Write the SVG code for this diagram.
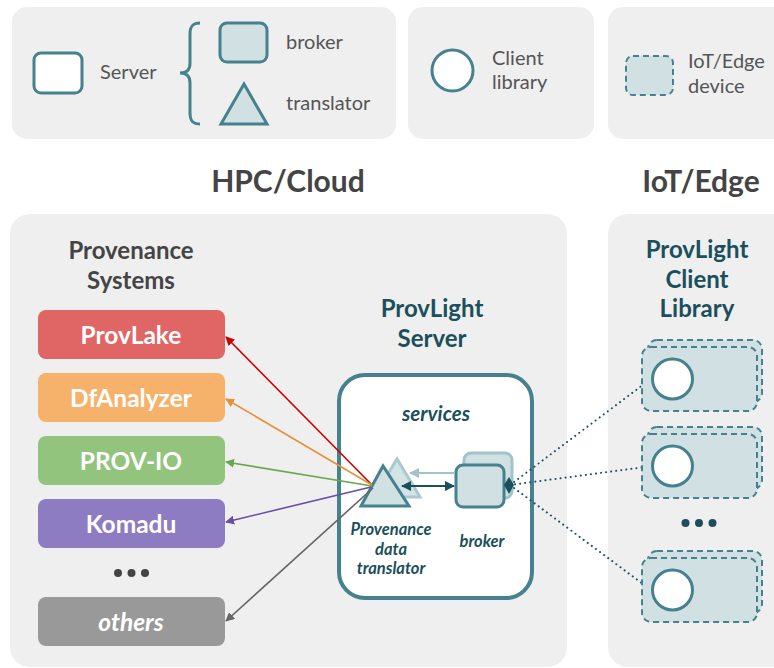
<svg xmlns="http://www.w3.org/2000/svg" width="774" height="668" viewBox="0 0 774 668">
<defs>
<style>
.panel{fill:#efefef}
.lg{font-family:Lato,"Liberation Sans",sans-serif;font-size:20px;fill:#555}
.ttl{font-family:Lato,"Liberation Sans",sans-serif;font-size:30px;font-weight:bold;fill:#444;text-anchor:middle}
.sub{font-family:Lato,"Liberation Sans",sans-serif;font-size:24px;font-weight:bold;text-anchor:middle}
.box{font-family:Lato,"Liberation Sans",sans-serif;font-size:24.5px;font-weight:bold;fill:#fff;text-anchor:middle}
.it{font-family:Lato,"Liberation Sans",sans-serif;font-weight:bold;font-style:italic;fill:#1b4f5c;text-anchor:middle}
.tealS{stroke:#45818e;stroke-width:3}
.lt{fill:#d0e0e3}
.dev{fill:#d0e0e3;stroke:#45818e;stroke-width:2;stroke-dasharray:6 4}
.dot{fill:none;stroke:#1b4f5c;stroke-width:2;stroke-dasharray:0.1 5;stroke-linecap:round}
</style>
<marker id="aR" viewBox="0 0 10 10" refX="9" refY="5" markerWidth="9" markerHeight="9" markerUnits="userSpaceOnUse" orient="auto"><path d="M0,0L10,5L0,10z" fill="#cc0000"/></marker>
<marker id="aO" viewBox="0 0 10 10" refX="9" refY="5" markerWidth="9" markerHeight="9" markerUnits="userSpaceOnUse" orient="auto"><path d="M0,0L10,5L0,10z" fill="#e69138"/></marker>
<marker id="aG" viewBox="0 0 10 10" refX="9" refY="5" markerWidth="9" markerHeight="9" markerUnits="userSpaceOnUse" orient="auto"><path d="M0,0L10,5L0,10z" fill="#6aa84f"/></marker>
<marker id="aP" viewBox="0 0 10 10" refX="9" refY="5" markerWidth="9" markerHeight="9" markerUnits="userSpaceOnUse" orient="auto"><path d="M0,0L10,5L0,10z" fill="#674ea7"/></marker>
<marker id="aK" viewBox="0 0 10 10" refX="9" refY="5" markerWidth="9" markerHeight="9" markerUnits="userSpaceOnUse" orient="auto"><path d="M0,0L10,5L0,10z" fill="#666"/></marker>
<marker id="aL" viewBox="0 0 10 10" refX="9" refY="5" markerWidth="10" markerHeight="10" markerUnits="userSpaceOnUse" orient="auto"><path d="M0,0L10,5L0,10z" fill="#a2c4c9"/></marker>
<marker id="aD" viewBox="0 0 10 10" refX="9" refY="5" markerWidth="10" markerHeight="10" markerUnits="userSpaceOnUse" orient="auto-start-reverse"><path d="M0,0L10,5L0,10z" fill="#1b4f5c"/></marker>
</defs>

<g id="legend">
<rect class="panel" x="12" y="7" width="384" height="132" rx="15"/>
<rect class="panel" x="408" y="7" width="186" height="132" rx="15"/>
<rect class="panel" x="608" y="7" width="190" height="132" rx="15"/>
<rect x="34" y="53" width="48" height="40" rx="7" fill="#fff" class="tealS"/>
<text class="lg" x="100" y="79">Server</text>
<path d="M200,23 C192,23 190,27 190,34 L190,63 C190,70 187,73 180,73 C187,73 190,76 190,83 L190,113 C190,120 192,124 200,124" fill="none" class="tealS"/>
<rect x="220" y="23" width="47" height="39" rx="7" class="lt tealS"/>
<text class="lg" x="286" y="49">broker</text>
<polygon points="221,124 244,84 267,124" class="lt tealS"/>
<text class="lg" x="286" y="110">translator</text>
<circle cx="452.5" cy="70.5" r="20.5" fill="#fff" class="tealS"/>
<text class="lg" x="492" y="65">Client</text>
<text class="lg" x="492" y="89">library</text>
<rect x="626" y="56" width="47" height="39" rx="7" class="dev" stroke-dasharray="5 3"/>
<text class="lg" x="688" y="68">IoT/Edge</text>
<text class="lg" x="688" y="93">device</text>
</g>

<g id="titles">
<text class="ttl" x="288" y="192">HPC/Cloud</text>
<text class="ttl" x="701" y="192">IoT/Edge</text>
</g>

<g id="panels">
<rect class="panel" x="10" y="214" width="557" height="453" rx="20"/>
<rect class="panel" x="608" y="214" width="190" height="453" rx="20"/>
</g>

<g id="provenance-systems">
<text class="sub" fill="#444" x="131" y="259">Provenance</text>
<text class="sub" fill="#444" x="131" y="289">Systems</text>
</g>
<g id="provlake"><rect x="38" y="310" width="187" height="49" rx="8" fill="#e06666"/><text class="box" x="131" y="344">ProvLake</text></g>
<g id="dfanalyzer"><rect x="38" y="373" width="187" height="49" rx="8" fill="#f6b26b"/><text class="box" x="131" y="407">DfAnalyzer</text></g>
<g id="prov-io"><rect x="38" y="436" width="187" height="49" rx="8" fill="#93c47d"/><text class="box" x="131" y="470">PROV-IO</text></g>
<g id="komadu"><rect x="38" y="499" width="187" height="49" rx="8" fill="#8e7cc3"/><text class="box" x="131" y="533">Komadu</text></g>
<g id="dots-left" fill="#444"><circle cx="118" cy="573" r="4"/><circle cx="131.5" cy="573" r="4"/><circle cx="145" cy="573" r="4"/></g>
<g id="others"><rect x="38" y="597" width="187" height="49" rx="8" fill="#999"/><text class="box" font-style="italic" x="131" y="631">others</text></g>

<g id="provlight-server">
<text class="sub" fill="#1b4f5c" x="432" y="317">ProvLight</text>
<text class="sub" fill="#1b4f5c" x="432" y="347">Server</text>
<rect x="339" y="375" width="193" height="223" rx="26" fill="#fff" stroke="#45818e" stroke-width="4"/>
<text class="it" font-size="20.5" x="436" y="421">services</text>
</g>

<g id="translator">
<polygon points="374,497 397,459 420,497" fill="#d0e0e3" stroke="#a2c4c9" stroke-width="3" opacity="0.9"/>
<polygon points="361,506 383,466 409,506" class="lt tealS" stroke-width="3.5"/>
<text class="it" font-size="16.5" x="391" y="535">Provenance</text>
<text class="it" font-size="16.5" x="391" y="555">data</text>
<text class="it" font-size="16.5" x="391" y="574">translator</text>
</g>

<g id="broker">
<rect x="464" y="453" width="48" height="45" rx="7" fill="#d0e0e3" stroke="#a2c4c9" stroke-width="3"/>
<rect x="456" y="465" width="48" height="42" rx="7" class="lt tealS" stroke-width="3.5"/>
<text class="it" font-size="16.5" x="482" y="547">broker</text>
</g>

<g id="connectors">
<line x1="372" y1="485" x2="226" y2="337" stroke="#cc0000" stroke-width="1.6" marker-end="url(#aR)"/>
<line x1="372" y1="485" x2="226" y2="399" stroke="#e69138" stroke-width="1.6" marker-end="url(#aO)"/>
<line x1="372" y1="486" x2="226" y2="462" stroke="#6aa84f" stroke-width="1.6" marker-end="url(#aG)"/>
<line x1="371" y1="487" x2="226" y2="522" stroke="#674ea7" stroke-width="1.6" marker-end="url(#aP)"/>
<line x1="373" y1="488" x2="226" y2="621" stroke="#666" stroke-width="1.6" marker-end="url(#aK)"/>
<line x1="455" y1="473" x2="410" y2="473" stroke="#a2c4c9" stroke-width="2" marker-end="url(#aL)"/>
<line x1="402" y1="486" x2="454" y2="486" stroke="#1b4f5c" stroke-width="2" marker-start="url(#aD)" marker-end="url(#aD)"/>
<path class="dot" d="M510,485 L648,381"/>
<path class="dot" d="M510,485 L645,467"/>
<path class="dot" d="M510,485 L651,590"/>
<polygon points="509,477 514,485 509,494 504,485" fill="#1b4f5c"/>
</g>

<g id="provlight-client-library">
<text class="sub" fill="#1b4f5c" x="697" y="258">ProvLight</text>
<text class="sub" fill="#1b4f5c" x="697" y="288">Client</text>
<text class="sub" fill="#1b4f5c" x="697" y="317">Library</text>
</g>
<g id="device1">
<rect x="648" y="340" width="114" height="62" rx="9" class="dev"/>
<rect x="642" y="347" width="115" height="64" rx="9" class="dev"/>
<circle cx="672.5" cy="379" r="20" fill="#fff" class="tealS" stroke-width="3.5"/>
</g>
<g id="device2">
<rect x="648" y="427" width="114" height="62" rx="9" class="dev"/>
<rect x="642" y="434" width="115" height="64" rx="9" class="dev"/>
<circle cx="672.5" cy="466" r="20" fill="#fff" class="tealS" stroke-width="3.5"/>
</g>
<g id="dots-right" fill="#1b4f5c"><circle cx="685.5" cy="523" r="4"/><circle cx="699" cy="523" r="4"/><circle cx="712.5" cy="523" r="4"/></g>
<g id="device3">
<rect x="648" y="551" width="114" height="62" rx="9" class="dev"/>
<rect x="642" y="558" width="115" height="64" rx="9" class="dev"/>
<circle cx="672.5" cy="590" r="20" fill="#fff" class="tealS" stroke-width="3.5"/>
</g>
</svg>
